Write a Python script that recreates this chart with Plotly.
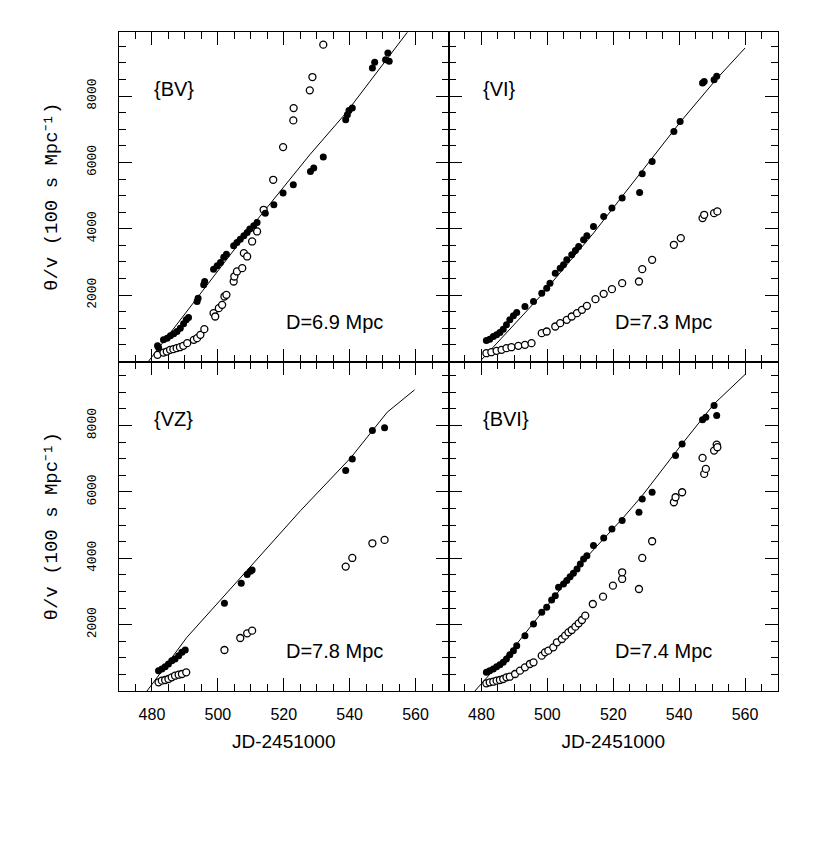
import plotly.graph_objects as go
from plotly.subplots import make_subplots

# ---- data (JD-2451000, theta/v in 100 s Mpc^-1) ----
bv_fill_jd = [481.7, 482.0, 483.5, 484.6, 485.6, 486.6, 487.6, 488.6, 489.6, 490.4, 491.1,
              493.7, 494.0, 495.7, 496.0, 498.7, 499.8, 500.8, 501.8, 502.6, 504.8, 505.8,
              506.8, 507.9, 508.9, 509.7, 510.9, 511.9, 514.4, 517.0, 519.8, 522.9, 528.1,
              529.1, 532.0, 538.8, 539.3, 539.8, 540.8, 546.9, 547.6, 550.9, 551.6, 552.0]
bv_fill_th = [473, 420, 653, 704, 774, 834, 905, 1005, 1136, 1256, 1327,
              1809, 1910, 2312, 2412, 2784, 2884, 2985, 3146, 3236, 3487, 3588,
              3688, 3789, 3889, 3990, 4090, 4191, 4472, 4723, 5075, 5327, 5729,
              5829, 6161, 7286, 7437, 7568, 7638, 8844, 9015, 9095, 9296, 9050]
bv_open_jd = [481.7, 483.5, 484.5, 485.5, 486.5, 487.5, 488.5, 489.5, 490.7, 492.7, 493.7,
              494.7, 495.9, 498.7, 499.2, 500.3, 501.3, 502.0, 502.6, 504.8, 505.0, 505.8,
              507.4, 507.9, 508.9, 510.4, 511.9, 513.9, 516.8, 519.8, 522.9, 523.0, 527.9,
              528.7, 532.0]
bv_open_th = [201, 271, 301, 352, 372, 402, 432, 472, 553, 653, 704,
              804, 975, 1457, 1357, 1608, 1709, 1960, 2010, 2412, 2563, 2714,
              2814, 3266, 3166, 3618, 3920, 4573, 5477, 6462, 7266, 7638, 8171,
              8573, 9548]
bv_fit_jd = [478.9, 495.0, 511.9, 527.9, 538.8, 550.4, 557.5]
bv_fit_th = [0, 2100, 4268, 6231, 7480, 8995, 9920]

vi_fill_jd = [481.5, 482.5, 483.6, 484.6, 485.6, 486.6, 487.6, 488.6, 489.7, 490.7, 493.2,
              495.8, 498.3, 499.8, 500.8, 502.4, 503.9, 504.9, 505.9, 507.4, 508.5, 509.5,
              511.0, 512.0, 514.0, 517.1, 519.6, 522.7, 528.0, 528.8, 531.8, 538.4, 540.3,
              547.1, 547.6, 550.6, 551.4]
vi_fill_th = [633, 673, 754, 804, 874, 975, 1106, 1256, 1377, 1477, 1658,
              1809, 2060, 2211, 2362, 2663, 2814, 2915, 3065, 3216, 3347, 3467,
              3668, 3789, 4070, 4372, 4623, 4925, 5096, 5658, 6030, 6935, 7236,
              8392, 8442, 8493, 8593]
vi_open_jd = [481.5, 483.0, 484.6, 486.1, 487.6, 489.1, 491.2, 493.2, 495.2, 498.3, 499.8,
              502.4, 503.9, 505.9, 507.4, 509.0, 510.5, 512.0, 514.6, 517.1, 519.6, 522.7,
              527.8, 528.8, 531.8, 538.4, 540.5, 547.1, 547.6, 550.6, 551.6]
vi_open_th = [251, 281, 322, 352, 402, 432, 472, 503, 553, 854, 905,
              1055, 1156, 1256, 1357, 1457, 1558, 1678, 1879, 2040, 2181, 2362,
              2412, 2784, 3065, 3518, 3719, 4322, 4422, 4472, 4523]
vi_fit_jd = [480.0, 497.8, 514.0, 522.7, 540.5, 551.6, 560.0]
vi_fit_th = [50, 1960, 3869, 4975, 7236, 8543, 9447]

vz_fill_jd = [482.0, 483.0, 484.0, 485.0, 486.0, 487.0, 488.1, 489.1, 490.1,
              502.0, 507.1, 508.9, 509.9, 510.4, 538.8, 540.8, 546.9, 550.6]
vz_fill_th = [613, 663, 734, 814, 915, 965, 1065, 1166, 1236,
              2643, 3246, 3508, 3608, 3648, 6643, 6995, 7849, 7930]
vz_open_jd = [482.0, 483.0, 484.0, 485.0, 486.0, 487.0, 488.1, 489.1, 490.4,
              502.0, 506.8, 508.9, 510.4, 538.8, 540.8, 546.9, 550.6]
vz_open_th = [261, 312, 332, 362, 412, 462, 492, 513, 563,
              1236, 1598, 1739, 1819, 3749, 4010, 4452, 4553]
vz_fit_jd = [478.5, 490.6, 506.8, 525.1, 540.3, 551.4, 559.7]
vz_fit_th = [0, 1618, 3407, 5437, 7025, 8402, 9075]

bvi_fill_jd = [481.5, 482.5, 483.6, 484.6, 485.6, 486.6, 487.6, 488.6, 489.7, 490.7, 493.2,
               495.8, 498.3, 499.8, 501.3, 502.4, 503.4, 504.9, 505.9, 506.9, 507.9, 509.0,
               510.0, 511.0, 512.0, 514.0, 517.1, 519.6, 522.7, 527.8, 528.8, 531.8, 538.9,
               540.9, 547.1, 548.1, 550.6, 551.4]
bvi_fill_th = [563, 613, 663, 734, 794, 864, 965, 1095, 1216, 1367, 1668,
               2020, 2372, 2523, 2744, 2874, 3126, 3226, 3327, 3447, 3548, 3678,
               3829, 3980, 4080, 4382, 4613, 4885, 5136, 5387, 5789, 5990, 7095,
               7447, 8171, 8251, 8603, 8301]
bvi_open_jd = [481.5, 482.5, 483.6, 484.6, 485.6, 486.6, 487.6, 488.6, 490.2, 491.7, 493.2,
               494.7, 495.8, 498.3, 499.3, 500.3, 501.8, 502.9, 504.4, 505.4, 506.4, 507.4,
               508.5, 509.5, 510.5, 511.5, 513.8, 516.9, 519.9, 522.7, 522.7, 527.8, 528.8,
               531.8, 538.4, 538.9, 540.9, 547.1, 547.6, 548.1, 550.6, 551.4, 551.6]
bvi_open_th = [231, 261, 281, 312, 332, 362, 412, 432, 513, 613, 714,
               814, 864, 1065, 1166, 1216, 1317, 1467, 1568, 1668, 1769, 1839,
               1940, 2040, 2141, 2271, 2623, 2844, 3176, 3377, 3578, 3075, 4010,
               4513, 5688, 5839, 5990, 7025, 6543, 6693, 7246, 7427, 7347]
bvi_fit_jd = [478.0, 490.7, 502.4, 510.0, 522.7, 528.8, 540.5, 550.6, 560.0]
bvi_fit_th = [0, 1417, 2874, 3829, 5186, 5889, 7397, 8653, 9537]

panel_names = ["{BV}", "{VI}", "{VZ}", "{BVI}"]
distances = ["D=6.9 Mpc", "D=7.3 Mpc", "D=7.8 Mpc", "D=7.4 Mpc"]
x_title = "JD-2451000"
y_title = "θ/v (100 s Mpc⁻¹)"

panels = [
  (1, 1, bv_fill_jd, bv_fill_th, bv_open_jd, bv_open_th, bv_fit_jd, bv_fit_th),
  (1, 2, vi_fill_jd, vi_fill_th, vi_open_jd, vi_open_th, vi_fit_jd, vi_fit_th),
  (2, 1, vz_fill_jd, vz_fill_th, vz_open_jd, vz_open_th, vz_fit_jd, vz_fit_th),
  (2, 2, bvi_fill_jd, bvi_fill_th, bvi_open_jd, bvi_open_th, bvi_fit_jd, bvi_fit_th),
]

fig = make_subplots(rows=2, cols=2, horizontal_spacing=0, vertical_spacing=0)

for i, (r, c, fx, fy, ox, oy, lx, ly) in enumerate(panels):
  fig.add_trace(go.Scatter(x=lx, y=ly, mode="lines", line=dict(color="black", width=1),
                           showlegend=False, hoverinfo="skip"), row=r, col=c)
  # open points: white fill with black outline
  fig.add_trace(go.Scatter(x=ox, y=oy, mode="markers",
                           marker=dict(symbol="circle", size=7, color="white",
                                       line=dict(width=1.3, color="black")),
                           showlegend=False), row=r, col=c)
  fig.add_trace(go.Scatter(x=fx, y=fy, mode="markers",
                           marker=dict(symbol="circle", size=7, color="black"),
                           showlegend=False), row=r, col=c)
  fig.add_annotation(x=480, y=8200, text=panel_names[i], showarrow=False,
                     xanchor="left", font=dict(family="Liberation Sans", size=20, color="black"),
                     row=r, col=c)
  fig.add_annotation(x=520, y=1200, text=distances[i], showarrow=False,
                     xanchor="left", font=dict(family="Liberation Sans", size=20, color="black"),
                     row=r, col=c)

  fig.update_xaxes(range=[470, 570], tick0=480, dtick=20, ticks="inside", ticklen=13,
                   tickwidth=1.3, tickcolor="black", showline=True, linecolor="black",
                   linewidth=1, mirror="ticks", showgrid=False, zeroline=False,
                   minor=dict(ticks="inside", ticklen=7, tickwidth=1.3, tickcolor="black",
                              dtick=5, tick0=470, showgrid=False),
                   showticklabels=(r == 2),
                   tickfont=dict(family="Liberation Sans", size=16, color="black"),
                   ticklabelstandoff=9,
                   row=r, col=c)
  fig.update_yaxes(range=[1, 9930], tick0=0, dtick=2000, ticks="inside", ticklen=13,
                   tickwidth=1.3, tickcolor="black", showline=True, linecolor="black",
                   linewidth=1, mirror="ticks", showgrid=False, zeroline=False,
                   tickformat="d",
                   minor=dict(ticks="inside", ticklen=7, tickwidth=1.3, tickcolor="black",
                              dtick=500, tick0=0, showgrid=False),
                   showticklabels=(c == 1), tickangle=-90,
                   tickfont=dict(family="Liberation Mono", size=13, color="black"),
                   ticklabelstandoff=17,
                   row=r, col=c)
  if r == 2:
    fig.update_xaxes(title=dict(text=x_title, standoff=12,
                                font=dict(family="Liberation Sans", size=19, color="black")),
                     row=r, col=c)
  if c == 1:
    fig.update_yaxes(title=dict(text=y_title, standoff=22,
                                font=dict(family="Liberation Mono", size=19, color="black")),
                     row=r, col=c)

fig.update_layout(width=822, height=838, plot_bgcolor="white", paper_bgcolor="white",
                  margin=dict(l=111, r=52, t=24, b=155), showlegend=False)

fig.write_html("out.html")
